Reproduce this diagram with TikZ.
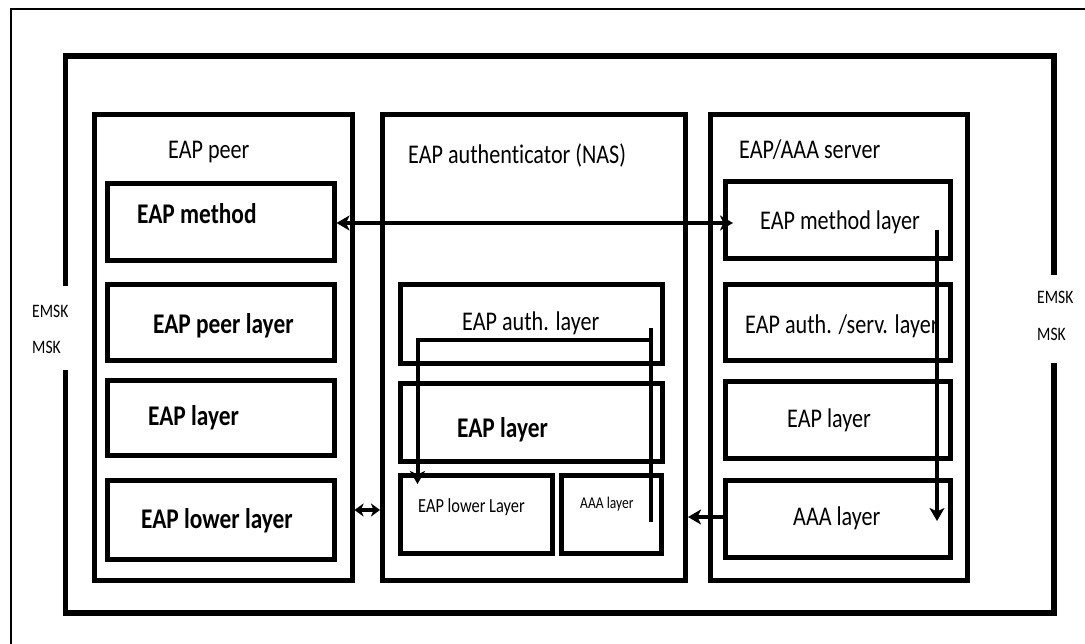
\documentclass[tikz,border=0pt]{standalone}
\usepackage{fontspec}
\newfontfamily\cf[FakeStretch=0.82,Ligatures=NoCommon]{Carlito}
\usetikzlibrary{arrows.meta}
\newcommand\boxnode[5]{\node[box,minimum width={#4-#2},minimum height={#5-#3}] (#1) at ({(#2+#4)/2},{(#3+#5)/2}) {};}
\begin{document}
\begin{tikzpicture}[x=1pt,y=-1pt,
  box/.style={draw,line width=5pt,inner sep=0pt,fill=none},
  framel/.style={line width=5.5pt},
  conn/.style={line width=4pt},
  tip/.style={-{Stealth[length=13pt,width=15pt,inset=3.5pt]}},
  dtip/.style={{Stealth[length=13pt,width=15pt,inset=3.5pt]}-{Stealth[length=13pt,width=15pt,inset=3.5pt]}},
  stip/.style={{Stealth[length=9pt,width=13pt,inset=2.5pt]}-{Stealth[length=9pt,width=13pt,inset=2.5pt]}},
  treg/.style={font=\cf\fontsize{27}{30}\selectfont,inner sep=0pt,anchor=base west},
  tbold/.style={font=\cf\bfseries\fontsize{28.5}{32}\selectfont,inner sep=0pt,anchor=base west},
  tsmall/.style={font=\cf\fontsize{20}{22}\selectfont,inner sep=0pt,anchor=base west},
  ttiny/.style={font=\cf\fontsize{16.5}{18}\selectfont,inner sep=0pt,anchor=base west},
  tkey/.style={font=\cf\fontsize{19}{21}\selectfont,inner sep=0pt,anchor=base west}]
\useasboundingbox (0,0) rectangle (1085,643);
\fill[white] (0,0) rectangle (1085,643);
% thin outer border
\draw[line width=1.5pt] (11,650) -- (11,9) -- (1090,9);
% big frame
\draw[framel] (65.5,286) -- (65.5,56) -- (1054,56) -- (1054,275);
\draw[framel] (1054,363) -- (1054,613) -- (65.5,613) -- (65.5,370);
% containers
\boxnode{peer}{94.5}{114}{352}{580}
\boxnode{auth}{382.5}{114.5}{685.5}{580}
\boxnode{serv}{710.5}{114.5}{967.5}{580}
% peer inner
\boxnode{pmeth}{107.5}{183.5}{334}{260}
\boxnode{ppeer}{107.5}{284.5}{334}{360.5}
\boxnode{peap}{107.5}{380}{334}{455.5}
\boxnode{plow}{107.5}{480.5}{334}{559.5}
% auth inner
\boxnode{aauth}{400.5}{284.5}{662.5}{363}
\boxnode{aeap}{400.5}{383}{662.5}{461}
\boxnode{alow}{400.5}{475.5}{552.5}{553.5}
\boxnode{aaaa}{561.5}{475.5}{661}{553.5}
% server inner
\boxnode{smeth}{725.5}{181}{950.5}{258}
\boxnode{sauth}{725.5}{284}{950.5}{360}
\boxnode{seap}{725.5}{381}{950.5}{458}
\boxnode{saaa}{725.5}{480}{950.5}{557}
% texts
\node[treg] (tpeer) at (168,158) {EAP peer};
\node[treg] (tauth) at (408,163) {EAP authenticator (NAS)};
\node[treg] (tserv) at (739,158) {EAP/AAA server};
\node[tbold] (tpm) at (137,223) {EAP method};
\node[tbold] (tpp) at (153,333) {EAP peer layer};
\node[tbold] (tpe) at (148,425) {EAP layer};
\node[tbold] (tpl) at (141,528) {EAP lower layer};
\node[treg] (taa) at (462,330) {EAP auth. layer};
\node[tbold] (tae) at (457,437) {EAP layer};
\node[tsmall] (tal) at (418,512) {EAP lower Layer};
\node[ttiny] (taq) at (580,508) {AAA layer};
\node[treg] (tsm) at (760,229) {EAP method layer};
\node[treg] (tsa) at (745,333) {EAP auth. /serv. layer};
\node[treg] (tse) at (787,427) {EAP layer};
\node[treg] (tsq) at (793,525) {AAA layer};
\node[tkey] (kl1) at (32,317) {EMSK};
\node[tkey] (kl2) at (32,353) {MSK};
\node[tkey] (kr1) at (1037,303) {EMSK};
\node[tkey] (kr2) at (1037,340) {MSK};
% connectors
\coordinate (topR) at ([xshift=10pt]smeth.west |- 0,223);
\draw[conn,dtip] (pmeth.east |- 0,223) -- (topR);
\draw[conn,stip] (peer.east |- 0,510) -- (auth.west |- 0,510);
\draw[conn,tip] (saaa.west |- 0,517) -- (auth.east |- 0,517);
\coordinate (sv1) at (937,230);
\coordinate (sv2) at (937,521);
\draw[conn,tip] (sv1) -- (sv2);
\coordinate (av0) at (650.5,328);
\coordinate (av1) at (650.5,522);
\coordinate (ah) at (650.5,339.5);
\coordinate (al) at (417.5,339.5);
\coordinate (ad) at (417.5,484);
\draw[conn] (av0) -- (av1);
\draw[conn,tip] (ah) -- (al) -- (ad);
\end{tikzpicture}
\end{document}
